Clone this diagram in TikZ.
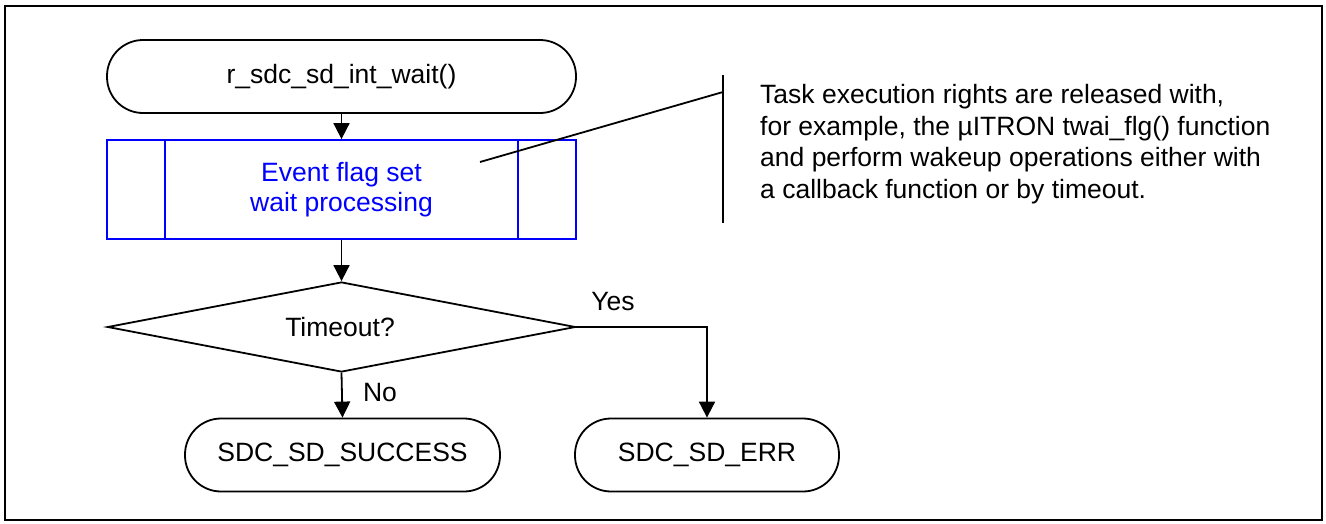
\documentclass[tikz,border=0pt]{standalone}
\usepackage{fontspec}
\setmainfont{Liberation Sans}
\usetikzlibrary{arrows.meta,shapes.geometric}
\definecolor{procblue}{RGB}{0,0,255}
\begin{document}
\begin{tikzpicture}[x=1pt,y=-1pt,
  every node/.style={font=\fontsize{26.5}{31.7}\selectfont},
  line/.style={line width=1.8pt},
  arr/.style={line width=1.8pt, -{Triangle[length=16pt,width=16pt]}},
  term/.style={draw, line width=1.8pt, rectangle, rounded corners=36pt, minimum height=73pt, inner sep=0pt},
  procbox/.style={draw=procblue, line width=1.8pt, rectangle, minimum width=469pt, minimum height=99pt, inner sep=0pt, text=procblue, align=center, font=\fontsize{26.5}{30}\selectfont},
  decide/.style={draw, line width=1.8pt, diamond, aspect=5.2, minimum width=468pt, minimum height=90pt, inner sep=0pt},
  lbl/.style={inner sep=0pt}
]
\useasboundingbox (0,0) rectangle (1326,523);
\draw[line width=2.4pt] (5,6) rectangle (1322,520);

\node[term, minimum width=469pt] (start) at (341.5,76.5) {r\_sdc\_sd\_int\_wait()};
\node[procbox] (proc) at (341.5,189.5) {Event flag set\\wait processing};
\draw[draw=procblue, line width=1.8pt] ([xshift=59pt]proc.north west) -- ([xshift=59pt]proc.south west);
\draw[draw=procblue, line width=1.8pt] ([xshift=-59pt]proc.north east) -- ([xshift=-59pt]proc.south east);

\node[decide] (dec) at (341.5,327) {};
\node[lbl] (dectext) at (340,327) {Timeout?};

\node[term, minimum width=315pt] (succ) at (342.5,455) {SDC\_SD\_SUCCESS};
\node[term, minimum width=264pt] (err) at (707,455) {SDC\_SD\_ERR};

\draw[arr] (start.south) -- (proc.north);
\draw[arr] (proc.south) -- (dec.north);
\draw[arr] (dec.south) -- (succ.north);
\draw[arr] (dec.east) -| (err.north);

\node[lbl] (no) at (380,393) {No};
\node[lbl] (yes) at (613,302) {Yes};

% annotation
\coordinate (cA) at (480,162);
\coordinate (cB) at (723,92);
\coordinate (bT) at (723,75);
\coordinate (bB) at (723,223);
\draw[line] (cA) -- (cB);
\draw[line] (bT) -- (bB);
\node[lbl, anchor=north west, align=left] (note) at (760,84) {Task execution rights are released with,\\for example, the µITRON twai\_flg() function\\and perform wakeup operations either with\\a callback function or by timeout.};
\end{tikzpicture}
\end{document}
